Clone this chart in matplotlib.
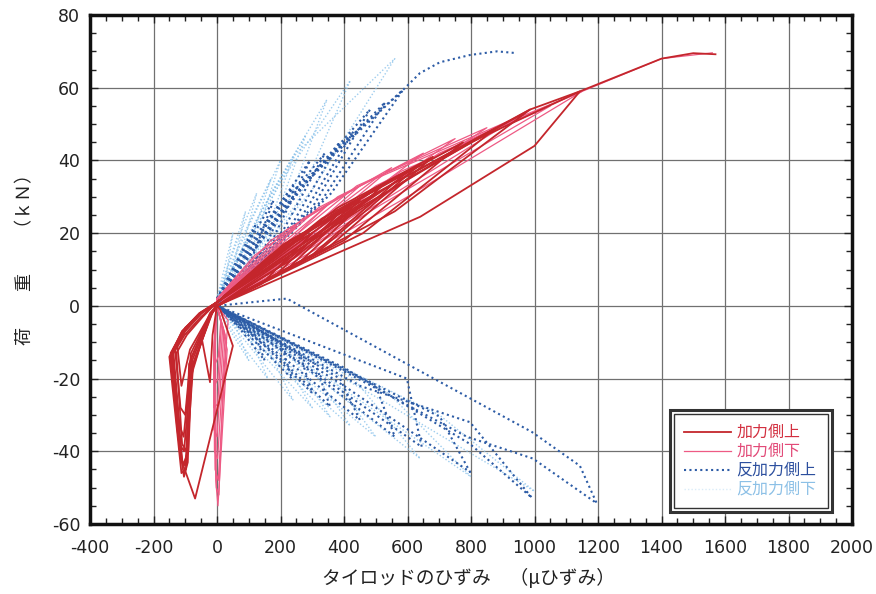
import matplotlib
matplotlib.use('Agg')
import matplotlib.pyplot as plt
from matplotlib.patches import Rectangle
from matplotlib.ticker import MultipleLocator

plt.rcParams['font.family'] = ['DejaVu Sans', 'Noto Sans CJK JP']
plt.rcParams['axes.unicode_minus'] = False

# each cycle: list of (strain [μ], load [kN]) points
# 加力側上 (loading side, upper gauge)
kaka_ue = [
    [(0, 0), (140, 6), (300, 20), (170, 14), (0, 1), (-50, -2), (-100, -6), (-125, -11), (-112, -22), (-85, -12), (-20, -2), (0, 0)],
    [(0, 0), (180, 8), (380, 25), (210, 17), (0, 1), (-50, -2), (-105, -7), (-132, -12), (-115, -28), (-100, -30), (-82, -13), (-20, -2), (0, 0)],
    [(0, 0), (220, 10), (450, 29), (250, 19), (0, 1), (-50, -2), (-105, -7), (-138, -12), (-118, -33), (-105, -36), (-80, -14), (-18, -2), (0, 0)],
    [(0, 0), (260, 12), (520, 33), (290, 21), (0, 1), (-52, -2), (-108, -7), (-142, -13), (-118, -38), (-104, -40), (-78, -15), (-18, -2), (0, 0)],
    [(0, 0), (300, 14), (600, 37), (330, 24), (0, 1), (-52, -2), (-108, -7), (-146, -13), (-115, -42), (-100, -44), (-76, -16), (-16, -2), (0, 0)],
    [(0, 0), (350, 16), (680, 41), (380, 27), (0, 1), (-55, -2), (-110, -7), (-150, -14), (-112, -46), (-98, -45), (-75, -16), (-15, -2), (0, 0)],
    [(0, 0), (400, 18), (775, 45), (440, 29), (0, 1), (-55, -2), (-110, -7), (-148, -14), (-110, -43), (-69, -53), (50, -11), (10, -1), (0, 0)],
    [(0, 0), (460, 20), (880, 49), (500, 31), (0, 1), (-50, -8), (-22, -21), (-14, -8), (0, 0)],
    [(0, 0), (240, 13), (500, 31), (280, 20), (0, 1), (-48, -2), (-100, -7), (-140, -13), (-122, -30), (-108, -44), (-90, -40), (-80, -18), (-22, -3), (0, 0)],
    [(0, 0), (320, 15), (640, 39), (360, 25), (0, 1), (-50, -3), (-102, -8), (-144, -14), (-125, -34), (-104, -47), (-92, -43), (-84, -20), (-25, -3), (0, 0)],
    [(0, 0), (200, 11), (420, 27), (230, 18), (0, 1), (-45, -3), (-95, -8), (-128, -13), (-110, -38), (-96, -40), (-88, -16), (-22, -2), (0, 0)],
    [(0, 0), (640, 24.5), (1000, 44), (1143, 59), (986, 54), (560, 34), (0, 1)],
    [(0, 0), (560, 26), (986, 54), (620, 36), (0, 1)],
    [(0, 0), (450, 27), (800, 45), (1143, 59), (1400, 68), (1500, 69.5), (1570, 69.2)],
]

# 加力側下 (loading side, lower gauge)
kaka_shita = [
    [(0, 0), (110, 9), (250, 22), (120, 14), (0, 2), (-4, -6), (-6, -16), (4, -14), (12, -4), (0, 0)],
    [(0, 0), (160, 12), (350, 28), (170, 18), (0, 2), (-6, -8), (-8, -22), (3, -20), (14, -5), (0, 0)],
    [(0, 0), (200, 14), (450, 33), (220, 21), (0, 2), (-8, -10), (-10, -28), (2, -27), (18, -6), (0, 0)],
    [(0, 0), (250, 16), (550, 38), (270, 24), (0, 2), (-8, -10), (-10, -34), (0, -36), (22, -7), (0, 0)],
    [(0, 0), (300, 19), (650, 42), (320, 27), (0, 2), (-10, -12), (-8, -40), (2, -42), (26, -8), (0, 0)],
    [(0, 0), (350, 21), (750, 46), (380, 30), (0, 2), (-10, -12), (-6, -45), (4, -48), (30, -10), (0, 0)],
    [(0, 0), (400, 23), (850, 49), (440, 33), (0, 2), (-8, -12), (-4, -48), (3, -55), (32, -12), (0, 0)],
    [(0, 0), (450, 25), (950, 52), (500, 35), (0, 2), (-5, -10), (-2, -50), (6, -52), (20, -20), (35, -4), (0, 0)],
    [(0, 0), (520, 28), (1050, 55), (580, 37), (0, 2)],
    [(0, 0), (600, 30), (1150, 59), (700, 42), (0, 2)],
    [(0, 0), (500, 33), (900, 50), (1150, 59), (1400, 68), (1560, 69.6)],
]

# 反加力側上 (reverse side, upper gauge)
hankaka_ue = [
    [(0, 2), (60, 12), (120, 22), (70, 10), (0, 0), (70, -6), (150, -15), (120, -8), (0, 0)],
    [(0, 2), (90, 16), (178, 29), (110, 13), (0, 0), (110, -9), (236, -20), (200, -10), (0, 0)],
    [(0, 2), (120, 19), (240, 33), (150, 16), (0, 0), (150, -11), (300, -24), (260, -13), (0, 0)],
    [(0, 2), (150, 22), (293, 40), (180, 19), (0, 0), (180, -13), (356, -27.7), (310, -16), (0, 0)],
    [(0, 2), (170, 24), (340, 42), (210, 21), (0, 0), (220, -15), (450, -31.4), (387, -20), (0, 0)],
    [(0, 2), (200, 26), (387, 45), (240, 23), (0, 0), (280, -17), (560, -36), (500, -22), (0, 0)],
    [(0, 2), (220, 28), (430, 48), (270, 25), (0, 0), (320, -19), (645, -38.8), (598, -20), (0, 0)],
    [(0, 2), (250, 31), (482, 54), (300, 27), (0, 0), (400, -22), (797, -45.7), (702, -30.5), (0, 0)],
    [(0, 2), (270, 33), (530, 56), (330, 29), (0, 0), (450, -22), (797, -32), (992, -52.8), (797, -38), (400, -17), (0, 0)],
    [(0, 2), (300, 36), (586, 59.4), (360, 31), (0, 0), (220, 2), (992, -34.7), (1143, -44), (1196, -54.3), (995, -42), (787, -36), (400, -18), (0, 0)],
    [(0, 2), (200, 28), (409, 45.6), (586, 59.4), (639, 64), (702, 67), (797, 69), (882, 70), (945, 69.5)],
]

# 反加力側下 (reverse side, lower gauge)
hankaka_shita = [
    [(0, 2), (25, 11), (50, 20), (30, 9), (0, 0), (50, -8), (100, -15), (60, -6), (0, 0)],
    [(0, 2), (45, 14), (90, 26), (55, 12), (0, 0), (80, -11), (160, -20), (100, -8), (0, 0)],
    [(0, 2), (60, 17), (125, 31), (75, 14), (0, 0), (120, -13), (240, -26), (150, -10), (0, 0)],
    [(0, 2), (80, 19), (170, 35), (100, 16), (0, 0), (150, -14), (300, -28), (190, -12), (0, 0)],
    [(0, 2), (100, 22), (200, 40), (120, 18), (0, 0), (180, -15), (356, -30.5), (230, -13), (0, 0)],
    [(0, 2), (120, 23), (240, 41), (150, 19), (0, 0), (210, -17), (420, -33), (280, -15), (0, 0)],
    [(0, 2), (140, 26), (280, 47), (170, 21), (0, 0), (250, -18), (500, -36), (340, -17), (0, 0)],
    [(0, 2), (170, 31), (346, 56.7), (210, 25), (0, 0), (320, -20), (640, -42), (430, -20), (0, 0)],
    [(0, 2), (200, 34), (420, 62), (250, 28), (0, 0), (400, -23), (800, -47), (540, -24), (0, 0)],
    [(0, 2), (250, 42), (560, 68), (300, 32), (0, 0), (500, -25), (1000, -51), (700, -30), (0, 0)],
]

series_labels = ['加力側上', '加力側下', '反加力側上', '反加力側下']
line_colors = ['#c4262c', '#ee5a84', '#2d5ca6', '#86c0ea']
text_colors = ['#d33040', '#e24a78', '#2c4f9e', '#8cc0e6']

fig = plt.figure(figsize=(8.76, 5.94), dpi=100)
ax = fig.add_axes([90/876, 70/594, 762/876, 509/594])

def draw(cycles, **kw):
    for c in cycles:
        ax.plot([p[0] for p in c], [p[1] for p in c], **kw)

draw(hankaka_shita, color=line_colors[3], lw=1.0, ls=(0, (1, 1.5)), alpha=0.8)
draw(hankaka_ue, color=line_colors[2], lw=1.5, ls=(0, (1, 1.6)))
draw(kaka_shita, color=line_colors[1], lw=0.9)
draw(kaka_ue, color=line_colors[0], lw=1.3)

ax.set_xlim(-400, 2000)
ax.set_ylim(-60, 80)
ax.xaxis.set_major_locator(MultipleLocator(200))
ax.xaxis.set_minor_locator(MultipleLocator(50))
ax.yaxis.set_major_locator(MultipleLocator(20))
ax.yaxis.set_minor_locator(MultipleLocator(5))
ax.grid(True, which='major', color='#707070', lw=0.9)
ax.set_axisbelow(True)
ax.tick_params(which='both', direction='in', top=True, right=True, colors='#222222')
ax.tick_params(which='major', length=6, width=1.0, labelsize=12.5)
ax.tick_params(which='minor', length=4, width=1.0)
ax.tick_params(axis='x', pad=11)
ax.tick_params(axis='y', pad=7)
for s in ax.spines.values():
    s.set_linewidth(2.5)
    s.set_color('#111111')

fig.text(25/876, 1 - 255/594, '荷　　重　　（ｋＮ）', rotation=90, ha='center', va='center',
         fontsize=13, color='#222222', family=['Noto Sans CJK JP', 'DejaVu Sans'])
fig.text(469/876, 1 - 578/594, 'タイロッドのひずみ　（μひずみ）', ha='center', va='center',
         fontsize=13.5, color='#222222', family=['Noto Sans CJK JP', 'DejaVu Sans'])

# legend box with double border
ax.add_patch(Rectangle((0.761, 0.024), 0.213, 0.200, transform=ax.transAxes,
                       facecolor='white', edgecolor='#333333', lw=2.2, zorder=5))
ax.add_patch(Rectangle((0.766, 0.032), 0.203, 0.184, transform=ax.transAxes,
                       facecolor='white', edgecolor='#333333', lw=1.0, zorder=6))
rows = [0.181, 0.143, 0.106, 0.069]
styles = [dict(lw=1.3), dict(lw=0.9), dict(lw=1.5, ls=(0, (1, 1.6))), dict(lw=1.0, ls=(0, (1, 1.5)), alpha=0.3)]
for lab, lc, tc, yy, st in zip(series_labels, line_colors, text_colors, rows, styles):
    ax.plot([0.7795, 0.8412], [yy, yy], transform=ax.transAxes, color=lc, zorder=7, **st)
    ax.text(0.848, yy, lab, transform=ax.transAxes, ha='left', va='center', fontsize=11.5,
            color=tc, zorder=7, family=['Noto Sans CJK JP', 'DejaVu Sans'])

fig.savefig('out.png', dpi=100)
